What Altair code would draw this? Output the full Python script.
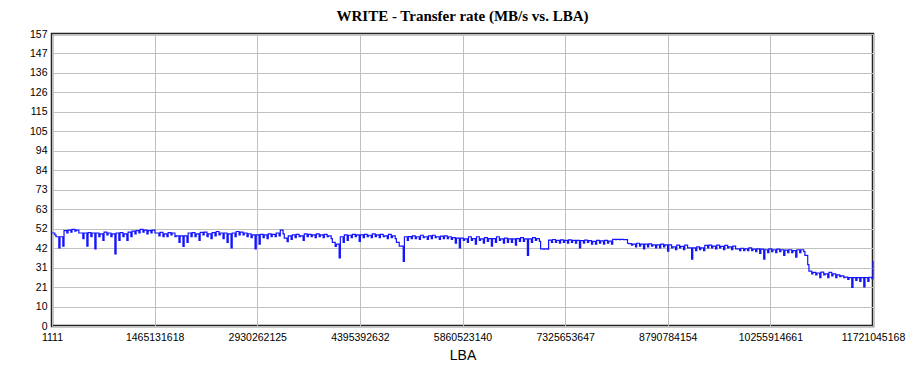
import altair as alt
import numpy as np
import pandas as pd

# Chart data
lba_min = 1111
lba_max = 11721045168
y_max = 157

# Transfer rate (MB/s): level of each equally spaced LBA column ...
mbps_level = [
    50, 48, 48, 51.3, 51.5, 52, 51.5, 50, 50, 50.2,
    50, 50, 49.5, 50.5, 50, 49.5, 50, 50.2, 49.5, 50.5,
    51, 51.3, 52, 51.5, 51.3, 51.5, 50, 50.3, 49.5, 50.2,
    50, 48.5, 48.5, 48.5, 50, 50.2, 49.5, 50.3, 50.5, 49.5,
    50.2, 50.8, 50, 50, 49.5, 50, 50.8, 50.5, 50, 49.6,
    49, 49, 49.3, 49, 49.5, 49.3, 50, 51.5, 47.2, 48.5,
    49, 49.3, 48.5, 49.5, 49.3, 49, 49.5, 49, 49.3, 48.5,
    45, 44, 48, 49, 48.8, 49.3, 49, 49, 49.3, 48.8,
    49.5, 49, 49.3, 48.5, 49.3, 48.5, 45, 43, 48, 48.1,
    48.5, 48, 48.8, 48, 48.5, 48.8, 48, 48.3, 48.5, 48,
    47.5, 47.2, 47.2, 46.8, 48, 47, 48, 46.8, 47.5, 47,
    47, 48, 46.8, 47.2, 46.8, 46.8, 47, 47.5, 46.8, 46.8,
    47.5, 47, 41.5, 41.5, 46.2, 46.5, 46, 46.3, 46, 46.3,
    46, 46, 45.9, 46.2, 45.9, 45.5, 46, 45.8, 46, 45.6,
    46.6, 46.6, 46.6, 46.4, 44.3, 44, 44.5, 44, 44, 44.2,
    43.6, 43.6, 44, 43.6, 43.6, 42.5, 43.5, 42.8, 43.5, 42,
    42, 42.5, 42, 43.3, 43.5, 43, 43.5, 42.8, 43.3, 42.5,
    43, 41.5, 41.8, 41.5, 42, 41.3, 41.5, 41.3, 41, 41.5,
    41, 41.3, 41, 40.8, 41, 40.5, 41, 41, 38, 29.5,
    28.8, 28.5, 29, 28, 28.8, 28, 27.5, 27, 26.3, 26,
    26, 26, 26, 26, 26.2,
]
# ... and the lowest reading (dip) inside each column
mbps_low = [
    49, 42, 43, 50, 50.5, 51, 50, 47, 43, 48,
    41.5, 48, 46, 49, 48, 38.7, 46, 48, 46, 48,
    49.5, 50, 50.5, 49.5, 50, 50, 48.5, 48, 48, 49,
    48, 45, 42.8, 45, 48, 48, 46, 49, 48, 47,
    48.5, 49, 47, 45, 42, 48, 49, 49, 48, 47.5,
    41.4, 44, 47.5, 47, 48, 48, 48.5, 49.5, 45.4, 46.5,
    47.5, 48, 46, 48, 48, 47.5, 48, 47.5, 48, 47,
    42.8, 36.6, 45, 46, 47.5, 48, 45.5, 47.5, 48, 47.5,
    48, 47.5, 48, 47, 47.5, 47, 43, 34.8, 46, 47,
    47, 46.5, 47.5, 46.5, 47, 47.5, 46.5, 47, 47, 46.5,
    44.5, 42, 46, 45, 46, 44, 46, 44.5, 45.5, 43,
    45, 46, 44.5, 45, 45, 43.5, 45.5, 45.5, 38, 45,
    46, 45.5, 41.3, 41.3, 45, 45, 44.5, 45, 44.5, 45,
    44.5, 42, 44.5, 45, 44, 44, 44.5, 44, 44.5, 44,
    46.4, 46.4, 46.4, 44.5, 43.5, 42.5, 43, 41.5, 42.5, 43,
    42, 42, 42.5, 40.2, 42, 41, 42, 41, 42, 36,
    40.5, 41, 40.5, 42, 42, 41.5, 42, 41, 42, 41,
    41.5, 40.5, 40.5, 40.5, 40.5, 40, 39, 36, 39.5, 40,
    39.5, 40, 38, 39.5, 39.5, 37, 39.5, 40, 33, 28,
    27.5, 26, 27.5, 26, 27, 26, 26.5, 26, 25, 20.7,
    24.5, 24, 21, 24, 25.5,
]
mbps_end = 35  # reading at the last LBA

x_tick_labels = ["1111", "1465131618", "2930262125", "4395392632", "5860523140",
                 "7325653647", "8790784154", "10255914661", "11721045168"]
y_tick_labels = ["0", "10", "21", "31", "42", "52", "63", "73", "84", "94",
                 "105", "115", "126", "136", "147", "157"]

n = len(mbps_level)
step = (lba_max - lba_min) / n
rows = []
for i in range(n):
    start = lba_min + i * step
    rows.append((start, mbps_level[i]))
    rows.append((start + 0.7 * step, mbps_low[i]))
rows.append((lba_max, mbps_end))
df = pd.DataFrame(rows, columns=["lba", "mbps"])

x_ticks = [lba_min + i * (lba_max - lba_min) / (len(x_tick_labels) - 1) for i in range(len(x_tick_labels))]
y_ticks = [i * y_max / (len(y_tick_labels) - 1) for i in range(len(y_tick_labels))]

font = "Liberation Sans"

chart = (
    alt.Chart(df)
    .mark_line(interpolate="step-after", color="#1414ff", strokeWidth=1.2)
    .encode(
        x=alt.X("lba:Q", sort=None,
                scale=alt.Scale(domain=[lba_min, lba_max], nice=False, zero=False),
                axis=alt.Axis(values=x_ticks, format="d", title="LBA",
                              labelFont=font, labelFontSize=10.5, labelColor="#000",
                              labelPadding=6, labelFlush=False, labelOverlap=False,
                              titleFont=font, titleFontSize=14, titleFontWeight="normal",
                              titleColor="#000", titlePadding=6)),
        y=alt.Y("mbps:Q",
                scale=alt.Scale(domain=[0, y_max], nice=False),
                axis=alt.Axis(values=y_ticks, format=".0f", title=None,
                              labelFont=font, labelFontSize=10.5, labelColor="#000",
                              labelPadding=5, labelOverlap=False)),
    )
    .properties(
        width=821,
        height=292,
        title=alt.TitleParams("WRITE - Transfer rate (MB/s vs. LBA)",
                              font="Liberation Serif", fontSize=15, fontWeight="bold",
                              color="#000", anchor="middle", offset=5),
        autosize=alt.AutoSizeParams(type="none"),
        padding={"left": 44, "top": 26, "right": 40, "bottom": 40},
        background="white",
    )
    .configure_axis(domain=False, ticks=False, grid=True, gridColor="#c0c0c0", gridWidth=1)
    .configure_view(stroke="#222222", strokeWidth=2.5)
)

chart.save("out.html", embed_options={"renderer": "svg", "actions": False})
